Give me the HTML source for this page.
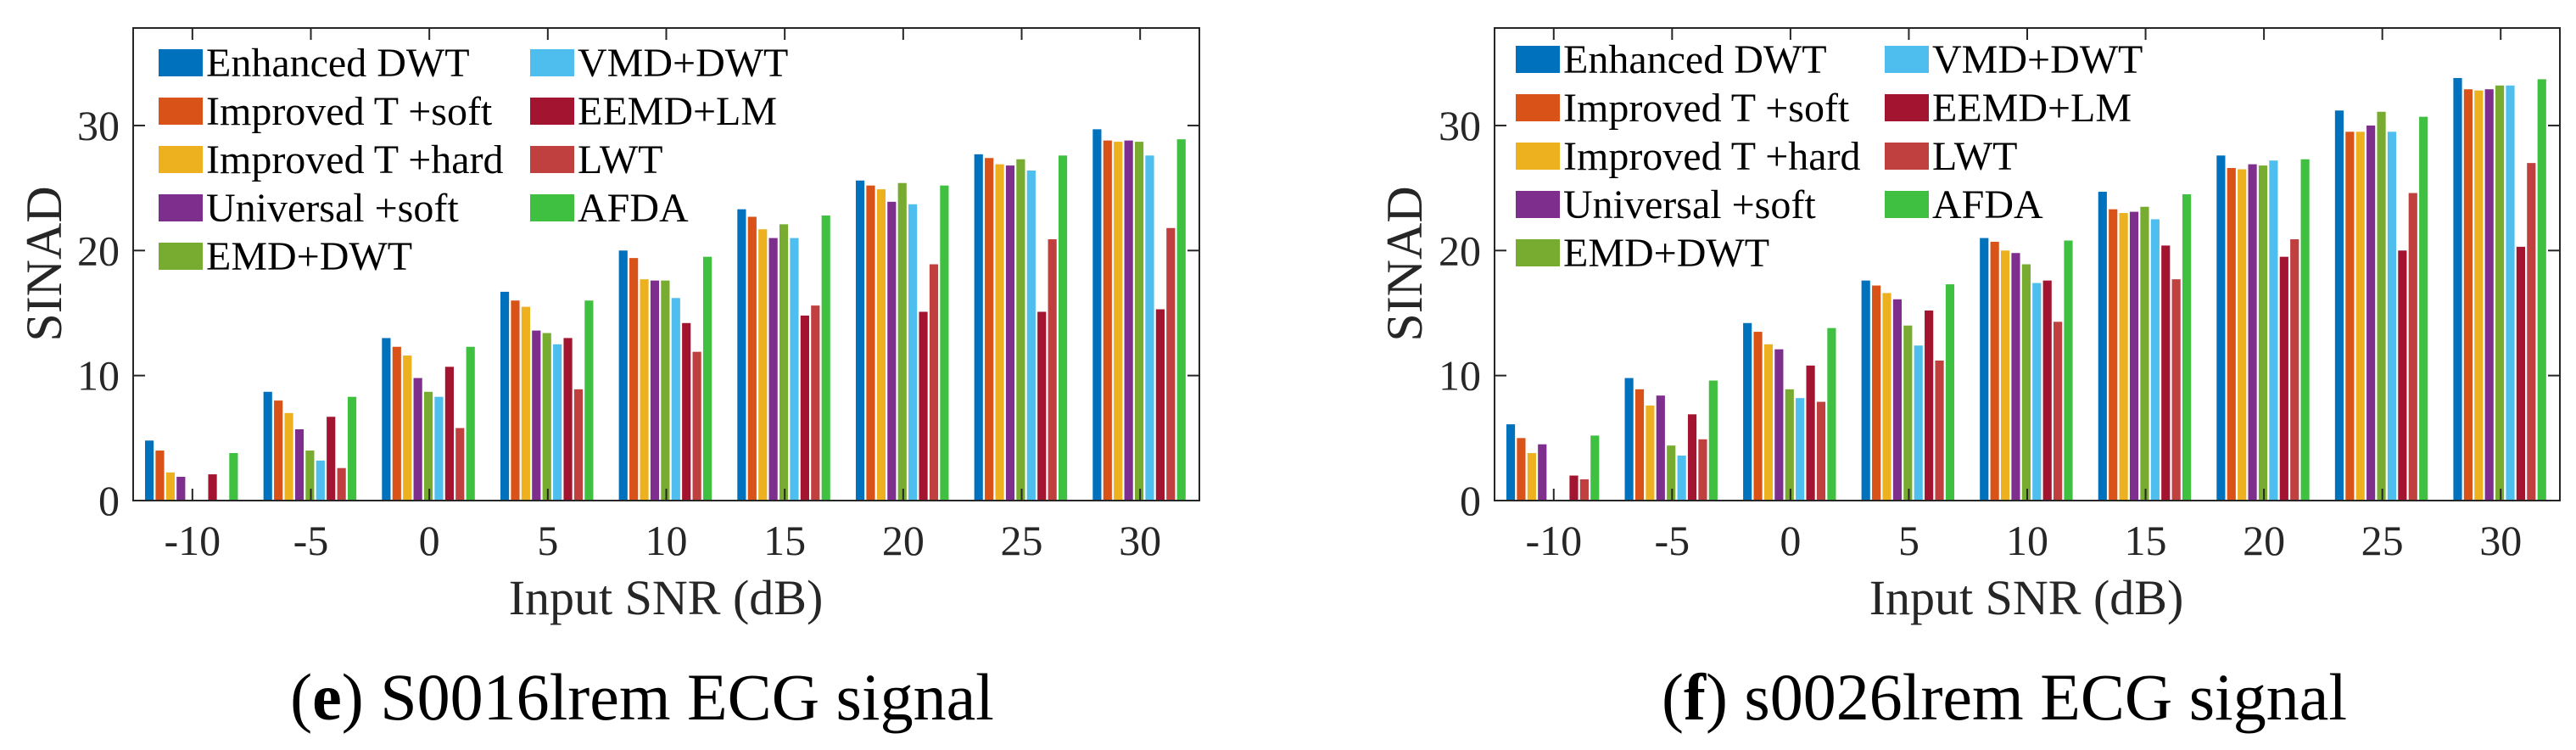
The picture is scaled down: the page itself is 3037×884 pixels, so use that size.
<!DOCTYPE html>
<html><head><meta charset="utf-8">
<style>
html,body{margin:0;padding:0;background:#fff;}
svg{display:block;font-family:"Liberation Serif",serif;}
</style></head>
<body>
<svg id="fig" width="3037" height="884" viewBox="0 0 3037 884" xmlns="http://www.w3.org/2000/svg"></svg>
<script>
const categories = ["-10","-5","0","5","10","15","20","25","30"];
const seriesNames = ["Enhanced DWT","Improved T +soft","Improved T +hard","Universal +soft","EMD+DWT","VMD+DWT","EEMD+LM","LWT","AFDA"];
const seriesColors = ["#0072BD","#D95319","#EDB120","#7E2F8E","#77AC30","#4DBEEE","#A2142F","#C04040","#40C040"];
const yTicks = [0,10,20,30];
// chart (e) values: rows = series, cols = categories
const eEnhanced  = [4.8, 8.7,13.0,16.7,20.0,23.3,25.6,27.7,29.7];
const eImpSoft   = [4.0, 8.0,12.3,16.0,19.4,22.7,25.2,27.4,28.8];
const eImpHard   = [2.25,7.0,11.6,15.5,17.7,21.7,24.9,26.9,28.7];
const eUnivSoft  = [1.9, 5.7, 9.8,13.6,17.6,21.0,23.9,26.8,28.8];
const eEmdDwt    = [0,   4.0, 8.7,13.4,17.6,22.1,25.4,27.3,28.7];
const eVmdDwt    = [0,   3.2, 8.3,12.5,16.2,21.0,23.7,26.4,27.6];
const eEemdLm    = [2.1, 6.7,10.7,13.0,14.2,14.8,15.1,15.1,15.3];
const eLwt       = [0,   2.6, 5.8, 8.9,11.9,15.6,18.9,20.9,21.8];
const eAfda      = [3.8, 8.3,12.3,16.0,19.5,22.8,25.2,27.6,28.9];
// chart (f) values
const fEnhanced  = [6.1, 9.8,14.2,17.6,21.0,24.7,27.6,31.2,33.8];
const fImpSoft   = [5.0, 8.9,13.5,17.2,20.7,23.3,26.6,29.5,32.9];
const fImpHard   = [3.8, 7.6,12.5,16.6,20.0,23.0,26.5,29.5,32.8];
const fUnivSoft  = [4.5, 8.4,12.1,16.1,19.8,23.1,26.9,30.0,32.9];
const fEmdDwt    = [0,   4.4, 8.9,14.0,18.9,23.5,26.8,31.1,33.2];
const fVmdDwt    = [0,   3.6, 8.2,12.4,17.4,22.5,27.2,29.5,33.2];
const fEemdLm    = [2.0, 6.9,10.8,15.2,17.6,20.4,19.5,20.0,20.3];
const fLwt       = [1.7, 4.9, 7.9,11.2,14.3,17.7,20.9,24.6,27.0];
const fAfda      = [5.2, 9.6,13.8,17.3,20.8,24.5,27.3,30.7,33.7];

const NS="http://www.w3.org/2000/svg";
const svg=document.getElementById('fig');
function mk(tag,attrs,parent){const e=document.createElementNS(NS,tag);for(const k in attrs)e.setAttribute(k,attrs[k]);(parent||svg).appendChild(e);return e;}

function drawChart(cfg){
  const g=mk('g',{});
  
  
  const L=cfg.left,R=cfg.right,T=33,B=590,ymax=37.8;
  const n=categories.length;
  const unit=(R-L)/n;
  const xc=i=>L+unit*(i+0.5);
  const ys=v=>B-(B-T)*v/ymax;
  const ns=cfg.data.length;
  const gw=0.8*unit, bw=gw/ns;
  cfg.data.forEach((arr,s)=>{
    arr.forEach((v,i)=>{
      if(v<=0)return;
      const x=xc(i)-gw/2+s*bw;
      const r=mk('rect',{x:x.toFixed(2),y:ys(v).toFixed(2),width:(bw*0.82).toFixed(2),height:(B-ys(v)).toFixed(2),fill:seriesColors[s]},g);
      
      
    });
  });
  const box=mk('rect',{x:L,y:T,width:R-L,height:B-T,fill:'none',stroke:'#262626','stroke-width':2},g);
  
  
  categories.forEach((c,i)=>{
    mk('line',{x1:xc(i),x2:xc(i),y1:B,y2:B-14,stroke:'#262626','stroke-width':2},g);
    mk('line',{x1:xc(i),x2:xc(i),y1:T,y2:T+14,stroke:'#262626','stroke-width':2},g);
    const t=mk('text',{x:xc(i),y:B+64,'font-size':50,'text-anchor':'middle',fill:'#262626'},g);
    t.textContent=c;
    
    
  });
  yTicks.forEach(v=>{
    mk('line',{x1:L,x2:L+14,y1:ys(v),y2:ys(v),stroke:'#262626','stroke-width':2},g);
    mk('line',{x1:R,x2:R-14,y1:ys(v),y2:ys(v),stroke:'#262626','stroke-width':2},g);
    const t=mk('text',{x:L-16,y:ys(v)+17,'font-size':50,'text-anchor':'end',fill:'#262626'},g);
    t.textContent=v;
    
    
  });
  const xl=mk('text',{x:cfg.xlabelX,y:724,'font-size':58,'text-anchor':'middle',fill:'#262626'},g);
  xl.textContent='Input SNR (dB)';
  
  
  const yl=mk('text',{x:0,y:0,'font-size':60,'text-anchor':'middle',fill:'#262626',transform:`translate(${cfg.ylabelX},311) rotate(-90)`},g);
  yl.textContent='SINAD';
  
  
  seriesNames.forEach((nm,s)=>{
    const col=s<5?0:1,row=s<5?s:s-5;
    const sx=cfg.legX[col], cy=cfg.legY+row*57;
    const lg=mk('g',{},g);
    
    
    mk('rect',{x:sx,y:cy-16,width:52,height:32,fill:seriesColors[s]},lg);
    const t=mk('text',{x:sx+56,y:cy+16,'font-size':48,fill:'#000'},lg);
    t.textContent=nm;
  });
  const cap=mk('text',{x:cfg.capX,y:848,'font-size':78,'text-anchor':'middle',fill:'#000'},g);
  
  
  const b=mk('tspan',{'font-weight':'bold'},cap);
  const p1=document.createTextNode('(');cap.insertBefore(p1,b);
  b.textContent=cfg.capLetter;
  cap.appendChild(document.createTextNode(') '+cfg.capText));
}

drawChart({name:'chart-e',left:157,right:1414,xlabelX:785,ylabelX:72,legX:[187,625],legY:74,capX:757,capLetter:'e',capText:'S0016lrem ECG signal',
  data:[eEnhanced,eImpSoft,eImpHard,eUnivSoft,eEmdDwt,eVmdDwt,eEemdLm,eLwt,eAfda]});
drawChart({name:'chart-f',left:1762,right:3018,xlabelX:2389,ylabelX:1676,legX:[1787,2222],legY:70,capX:2363,capLetter:'f',capText:'s0026lrem ECG signal',
  data:[fEnhanced,fImpSoft,fImpHard,fUnivSoft,fEmdDwt,fVmdDwt,fEemdLm,fLwt,fAfda]});
</script>
</body></html>
